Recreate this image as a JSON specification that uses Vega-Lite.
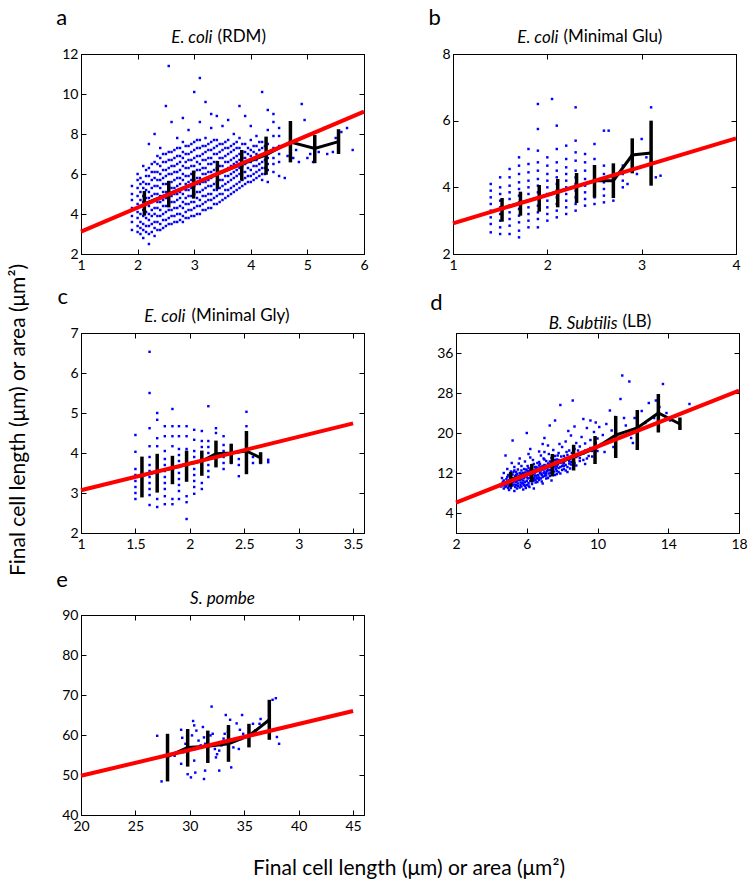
{
"$schema":"https://vega.github.io/schema/vega-lite/v6.json",
"padding":{"left":8,"top":6,"right":5,"bottom":4},
"background":"white",
"title":{"text":"Final cell length (μm) or area  (μm²)","orient":"bottom","anchor":"middle","frame":"group","dx":328,"fontSize":21,"offset":24},
"vconcat":[{
"title":{"text":"Final cell length (μm) or area  (μm²)","orient":"left","anchor":"middle","fontSize":21,"offset":27},
"spacing":16,
"vconcat":[
{"spacing":12,"vconcat":[
{"spacing":55,"hconcat":[
{"title":{"text":"a","anchor":"start","fontSize":22,"offset":-2,"dx":-5},"vconcat":[
{"title":{"text":"(RDM)","anchor":"middle","frame":"group","align":"left","dx":136.5,"offset":-17},"vconcat":[
{"width":283,"height":200,"title":{"text":"E. coli","fontStyle":"italic","anchor":"middle","frame":"group","align":"right","dx":-10,"offset":0},
"layer":[
{"data":{"name":"a_pts"},"mark":"point","encoding":{"x":{"field":"x","type":"quantitative","scale":{"domain":[1,6]},"axis":{"values":[1,2,3,4,5,6],"title":null}},"y":{"field":"y","type":"quantitative","scale":{"domain":[2,12]},"axis":{"values":[2,4,6,8,10,12],"title":null}}}},
{"data":{"name":"a_err"},"mark":"rule","encoding":{"x":{"field":"x","type":"quantitative","axis":null},"y":{"field":"lo","type":"quantitative","axis":null},"y2":{"field":"hi"}}},
{"data":{"name":"a_err"},"mark":{"type":"line","color":"black","strokeWidth":3},"encoding":{"x":{"field":"x","type":"quantitative","axis":null},"y":{"field":"m","type":"quantitative","axis":null}}},
{"data":{"name":"a_fit"},"mark":{"type":"line","color":"#ff0000","strokeWidth":4},"encoding":{"x":{"field":"x","type":"quantitative","axis":{"orient":"top","values":[1,2,3,4,5,6],"labels":false,"title":null}},"y":{"field":"y","type":"quantitative","axis":{"orient":"right","values":[2,4,6,8,10,12],"labels":false,"title":null}}}}
],"resolve":{"axis":{"x":"independent","y":"independent"}}}]}]},
{"title":{"text":"b","anchor":"start","fontSize":22,"offset":-2,"dx":-13},"vconcat":[
{"title":{"text":"(Minimal Glu)","anchor":"middle","frame":"group","align":"left","dx":110.5,"offset":-17},"vconcat":[
{"width":283,"height":200,"title":{"text":"E. coli","fontStyle":"italic","anchor":"middle","frame":"group","align":"right","dx":-36,"offset":0},
"layer":[
{"data":{"name":"b_pts"},"mark":"point","encoding":{"x":{"field":"x","type":"quantitative","scale":{"domain":[1,4]},"axis":{"values":[1,2,3,4],"title":null}},"y":{"field":"y","type":"quantitative","scale":{"domain":[2,8]},"axis":{"values":[2,4,6,8],"title":null}}}},
{"data":{"name":"b_err"},"mark":"rule","encoding":{"x":{"field":"x","type":"quantitative","axis":null},"y":{"field":"lo","type":"quantitative","axis":null},"y2":{"field":"hi"}}},
{"data":{"name":"b_err"},"mark":{"type":"line","color":"black","strokeWidth":3},"encoding":{"x":{"field":"x","type":"quantitative","axis":null},"y":{"field":"m","type":"quantitative","axis":null}}},
{"data":{"name":"b_fit"},"mark":{"type":"line","color":"#ff0000","strokeWidth":4},"encoding":{"x":{"field":"x","type":"quantitative","axis":{"orient":"top","values":[1,2,3,4],"labels":false,"title":null}},"y":{"field":"y","type":"quantitative","axis":{"orient":"right","values":[2,4,6,8],"labels":false,"title":null}}}}
],"resolve":{"axis":{"x":"independent","y":"independent"}}}]}]}
]},
{"spacing":65,"hconcat":[
{"title":{"text":"c","anchor":"start","fontSize":22,"offset":-2,"dx":-12},"vconcat":[
{"title":{"text":"(Minimal Gly)","anchor":"middle","frame":"group","align":"left","dx":110.5,"offset":-17},"vconcat":[
{"width":283,"height":200,"title":{"text":"E. coli","fontStyle":"italic","anchor":"middle","frame":"group","align":"right","dx":-37,"offset":0},
"layer":[
{"data":{"name":"c_pts"},"mark":"point","encoding":{"x":{"field":"x","type":"quantitative","scale":{"domain":[1,3.5]},"axis":{"values":[1,1.5,2,2.5,3,3.5],"title":null}},"y":{"field":"y","type":"quantitative","scale":{"domain":[2,7]},"axis":{"values":[2,3,4,5,6,7],"title":null}}}},
{"data":{"name":"c_err"},"mark":"rule","encoding":{"x":{"field":"x","type":"quantitative","axis":null},"y":{"field":"lo","type":"quantitative","axis":null},"y2":{"field":"hi"}}},
{"data":{"name":"c_err"},"mark":{"type":"line","color":"black","strokeWidth":3},"encoding":{"x":{"field":"x","type":"quantitative","axis":null},"y":{"field":"m","type":"quantitative","axis":null}}},
{"data":{"name":"c_fit"},"mark":{"type":"line","color":"#ff0000","strokeWidth":4},"encoding":{"x":{"field":"x","type":"quantitative","axis":{"orient":"top","values":[1,1.5,2,2.5,3,3.5],"labels":false,"title":null}},"y":{"field":"y","type":"quantitative","axis":{"orient":"right","values":[2,3,4,5,6,7],"labels":false,"title":null}}}}
],"resolve":{"axis":{"x":"independent","y":"independent"}}}]}]},
{"title":{"text":"d","anchor":"start","fontSize":22,"offset":-2,"dx":-6},"vconcat":[
{"title":{"text":"(LB)","anchor":"middle","frame":"group","align":"left","dx":166.5,"offset":-17},"vconcat":[
{"width":283,"height":200,"title":{"text":"B. Subtilis","fontStyle":"italic","anchor":"middle","frame":"group","align":"right","dx":20,"offset":0},
"layer":[
{"data":{"name":"d_pts"},"mark":"point","encoding":{"x":{"field":"x","type":"quantitative","scale":{"domain":[2,18]},"axis":{"values":[2,6,10,14,18],"title":null}},"y":{"field":"y","type":"quantitative","scale":{"domain":[4,36]},"axis":{"values":[4,12,20,28,36],"title":null}}}},
{"data":{"name":"d_err"},"mark":"rule","encoding":{"x":{"field":"x","type":"quantitative","axis":null},"y":{"field":"lo","type":"quantitative","axis":null},"y2":{"field":"hi"}}},
{"data":{"name":"d_err"},"mark":{"type":"line","color":"black","strokeWidth":3},"encoding":{"x":{"field":"x","type":"quantitative","axis":null},"y":{"field":"m","type":"quantitative","axis":null}}},
{"data":{"name":"d_fit"},"mark":{"type":"line","color":"#ff0000","strokeWidth":4},"encoding":{"x":{"field":"x","type":"quantitative","axis":{"orient":"top","values":[2,6,10,14,18],"labels":false,"title":null}},"y":{"field":"y","type":"quantitative","axis":{"orient":"right","values":[4,12,20,28,36],"labels":false,"title":null}}}}
],"resolve":{"axis":{"x":"independent","y":"independent"}}}]}]}
]}
]},
{"hconcat":[
{"title":{"text":"e","anchor":"start","fontSize":22,"offset":-2,"dx":-5},"vconcat":[
{"width":283,"height":200,"title":{"text":"S. pombe","fontStyle":"italic","anchor":"middle","frame":"group","offset":0},
"layer":[
{"data":{"name":"e_pts"},"mark":"point","encoding":{"x":{"field":"x","type":"quantitative","scale":{"domain":[20,45]},"axis":{"values":[20,25,30,35,40,45],"title":null}},"y":{"field":"y","type":"quantitative","scale":{"domain":[40,90]},"axis":{"values":[40,50,60,70,80,90],"title":null}}}},
{"data":{"name":"e_err"},"mark":"rule","encoding":{"x":{"field":"x","type":"quantitative","axis":null},"y":{"field":"lo","type":"quantitative","axis":null},"y2":{"field":"hi"}}},
{"data":{"name":"e_err"},"mark":{"type":"line","color":"black","strokeWidth":3},"encoding":{"x":{"field":"x","type":"quantitative","axis":null},"y":{"field":"m","type":"quantitative","axis":null}}},
{"data":{"name":"e_fit"},"mark":{"type":"line","color":"#ff0000","strokeWidth":4},"encoding":{"x":{"field":"x","type":"quantitative","axis":{"orient":"top","values":[20,25,30,35,40,45],"labels":false,"title":null}},"y":{"field":"y","type":"quantitative","axis":{"orient":"right","values":[40,50,60,70,80,90],"labels":false,"title":null}}}}
],"resolve":{"axis":{"x":"independent","y":"independent"}}}]}
]}
]}],
"datasets":{
"a_err":[{"x":2.12,"lo":3.92,"hi":5.15,"m":4.5},{"x":2.55,"lo":4.33,"hi":5.65,"m":5.0},{"x":2.99,"lo":4.77,"hi":6.17,"m":5.5},{"x":3.41,"lo":5.24,"hi":6.65,"m":6.0},{"x":3.84,"lo":5.67,"hi":7.2,"m":6.5},{"x":4.27,"lo":5.96,"hi":7.87,"m":6.95},{"x":4.7,"lo":6.58,"hi":8.65,"m":7.6},{"x":5.13,"lo":6.54,"hi":7.95,"m":7.28},{"x":5.55,"lo":7.0,"hi":8.24,"m":7.62}],
"a_fit":[{"x":1,"y":3.12},{"x":6,"y":9.12}],
"b_err":[{"x":1.52,"lo":2.97,"hi":3.68,"m":3.36},{"x":1.715,"lo":3.15,"hi":3.87,"m":3.53},{"x":1.914,"lo":3.27,"hi":4.07,"m":3.7},{"x":2.11,"lo":3.4,"hi":4.25,"m":3.87},{"x":2.31,"lo":3.53,"hi":4.43,"m":4.03},{"x":2.5,"lo":3.69,"hi":4.67,"m":4.2},{"x":2.7,"lo":3.68,"hi":4.72,"m":4.2},{"x":2.9,"lo":4.42,"hi":5.47,"m":4.97},{"x":3.1,"lo":4.05,"hi":6.0,"m":5.03}],
"b_fit":[{"x":1,"y":2.92},{"x":4,"y":5.47}],
"c_err":[{"x":1.56,"lo":2.89,"hi":3.91,"m":3.43},{"x":1.7,"lo":3.01,"hi":3.98,"m":3.54},{"x":1.84,"lo":3.22,"hi":3.93,"m":3.62},{"x":1.97,"lo":3.28,"hi":4.06,"m":3.72},{"x":2.11,"lo":3.43,"hi":4.06,"m":3.8},{"x":2.24,"lo":3.64,"hi":4.31,"m":3.98},{"x":2.38,"lo":3.73,"hi":4.23,"m":4.0},{"x":2.52,"lo":3.47,"hi":4.55,"m":4.05},{"x":2.65,"lo":3.73,"hi":4.02,"m":3.88}],
"c_fit":[{"x":1,"y":3.07},{"x":3.5,"y":4.74}],
"d_err":[{"x":5.09,"lo":9.17,"hi":12.2,"m":10.7},{"x":6.28,"lo":10.2,"hi":13.8,"m":12.1},{"x":7.45,"lo":11.3,"hi":15.8,"m":13.6},{"x":8.65,"lo":12.5,"hi":17.65,"m":15.2},{"x":9.86,"lo":13.8,"hi":19.4,"m":16.9},{"x":11.03,"lo":15.0,"hi":23.4,"m":19.6},{"x":12.25,"lo":16.6,"hi":24.6,"m":21.0},{"x":13.44,"lo":20.1,"hi":27.8,"m":24.0},{"x":14.66,"lo":20.6,"hi":23.1,"m":21.8}],
"d_fit":[{"x":2,"y":6.08},{"x":18,"y":28.48}],
"e_err":[{"x":27.95,"lo":48.4,"hi":60.3,"m":54.6},{"x":29.8,"lo":52.1,"hi":61.5,"m":56.9},{"x":31.65,"lo":53.0,"hi":61.1,"m":57.2},{"x":33.55,"lo":53.3,"hi":62.5,"m":57.8},{"x":35.43,"lo":56.9,"hi":62.8,"m":59.8},{"x":37.3,"lo":58.8,"hi":68.8,"m":63.8}],
"e_fit":[{"x":20,"y":49.8},{"x":45,"y":66.0}],
"a_pts":[
{"x":1.9,"y":3.2},{"x":1.9,"y":3.6},{"x":1.9,"y":3.9},{"x":1.9,"y":4.3},{"x":1.9,"y":4.7},{"x":1.9,"y":5.0},{"x":1.9,"y":5.4},
{"x":2.0,"y":3.1},{"x":2.0,"y":3.4},{"x":2.0,"y":3.8},{"x":2.0,"y":4.1},{"x":2.0,"y":4.5},{"x":2.0,"y":4.9},{"x":2.0,"y":5.3},{"x":2.0,"y":5.7},{"x":2.0,"y":6.0},
{"x":2.1,"y":2.8},{"x":2.1,"y":3.2},{"x":2.1,"y":3.5},{"x":2.1,"y":3.9},{"x":2.1,"y":4.2},{"x":2.1,"y":4.6},{"x":2.1,"y":4.9},{"x":2.1,"y":5.3},{"x":2.1,"y":5.6},{"x":2.1,"y":6.4},
{"x":2.2,"y":2.5},{"x":2.2,"y":3.0},{"x":2.2,"y":3.4},{"x":2.2,"y":3.7},{"x":2.2,"y":4.0},{"x":2.2,"y":4.4},{"x":2.2,"y":4.8},{"x":2.2,"y":5.1},{"x":2.2,"y":5.5},{"x":2.2,"y":5.9},{"x":2.2,"y":6.3},{"x":2.2,"y":7.5},
{"x":2.3,"y":2.9},{"x":2.3,"y":3.3},{"x":2.3,"y":3.6},{"x":2.3,"y":4.0},{"x":2.3,"y":4.3},{"x":2.3,"y":4.7},{"x":2.3,"y":5.0},{"x":2.3,"y":5.4},{"x":2.3,"y":5.8},{"x":2.3,"y":6.1},{"x":2.3,"y":6.6},{"x":2.3,"y":8.0},
{"x":2.4,"y":3.2},{"x":2.4,"y":3.5},{"x":2.4,"y":3.9},{"x":2.4,"y":4.2},{"x":2.4,"y":4.6},{"x":2.4,"y":4.9},{"x":2.4,"y":5.3},{"x":2.4,"y":5.7},{"x":2.4,"y":6.0},{"x":2.4,"y":6.4},{"x":2.4,"y":6.8},{"x":2.4,"y":7.3},
{"x":2.5,"y":3.4},{"x":2.5,"y":3.7},{"x":2.5,"y":4.1},{"x":2.5,"y":4.4},{"x":2.5,"y":4.8},{"x":2.5,"y":5.1},{"x":2.5,"y":5.5},{"x":2.5,"y":5.9},{"x":2.5,"y":6.2},{"x":2.5,"y":6.6},{"x":2.5,"y":7.0},{"x":2.5,"y":9.4},
{"x":2.6,"y":3.5},{"x":2.6,"y":3.9},{"x":2.6,"y":4.2},{"x":2.6,"y":4.6},{"x":2.6,"y":4.9},{"x":2.6,"y":5.3},{"x":2.6,"y":5.6},{"x":2.6,"y":6.0},{"x":2.6,"y":6.4},{"x":2.6,"y":6.7},{"x":2.6,"y":7.1},{"x":2.6,"y":8.6},
{"x":2.7,"y":3.6},{"x":2.7,"y":4.0},{"x":2.7,"y":4.3},{"x":2.7,"y":4.7},{"x":2.7,"y":5.0},{"x":2.7,"y":5.4},{"x":2.7,"y":5.8},{"x":2.7,"y":6.1},{"x":2.7,"y":6.5},{"x":2.7,"y":6.9},{"x":2.7,"y":7.3},{"x":2.7,"y":7.8},
{"x":2.8,"y":3.6},{"x":2.8,"y":3.9},{"x":2.8,"y":4.3},{"x":2.8,"y":4.6},{"x":2.8,"y":5.0},{"x":2.8,"y":5.3},{"x":2.8,"y":5.7},{"x":2.8,"y":6.0},{"x":2.8,"y":6.4},{"x":2.8,"y":6.8},{"x":2.8,"y":7.1},{"x":2.8,"y":7.6},{"x":2.8,"y":8.8},
{"x":2.9,"y":3.8},{"x":2.9,"y":4.2},{"x":2.9,"y":4.5},{"x":2.9,"y":4.9},{"x":2.9,"y":5.2},{"x":2.9,"y":5.6},{"x":2.9,"y":5.9},{"x":2.9,"y":6.3},{"x":2.9,"y":6.7},{"x":2.9,"y":7.0},{"x":2.9,"y":7.4},{"x":2.9,"y":8.2},
{"x":3.0,"y":3.9},{"x":3.0,"y":4.3},{"x":3.0,"y":4.6},{"x":3.0,"y":5.0},{"x":3.0,"y":5.4},{"x":3.0,"y":5.7},{"x":3.0,"y":6.1},{"x":3.0,"y":6.4},{"x":3.0,"y":6.8},{"x":3.0,"y":7.2},{"x":3.0,"y":7.6},{"x":3.0,"y":10.1},
{"x":3.1,"y":4.0},{"x":3.1,"y":4.4},{"x":3.1,"y":4.7},{"x":3.1,"y":5.1},{"x":3.1,"y":5.5},{"x":3.1,"y":5.8},{"x":3.1,"y":6.2},{"x":3.1,"y":6.5},{"x":3.1,"y":6.9},{"x":3.1,"y":7.3},{"x":3.1,"y":7.7},{"x":3.1,"y":8.6},{"x":3.1,"y":10.8},
{"x":3.2,"y":4.2},{"x":3.2,"y":4.6},{"x":3.2,"y":4.9},{"x":3.2,"y":5.3},{"x":3.2,"y":5.6},{"x":3.2,"y":6.0},{"x":3.2,"y":6.3},{"x":3.2,"y":6.7},{"x":3.2,"y":7.1},{"x":3.2,"y":7.4},{"x":3.2,"y":7.8},{"x":3.2,"y":9.6},
{"x":3.3,"y":4.3},{"x":3.3,"y":4.7},{"x":3.3,"y":5.0},{"x":3.3,"y":5.4},{"x":3.3,"y":5.8},{"x":3.3,"y":6.1},{"x":3.3,"y":6.5},{"x":3.3,"y":6.8},{"x":3.3,"y":7.2},{"x":3.3,"y":7.6},{"x":3.3,"y":8.3},{"x":3.3,"y":9.0},
{"x":3.4,"y":4.5},{"x":3.4,"y":4.9},{"x":3.4,"y":5.2},{"x":3.4,"y":5.6},{"x":3.4,"y":5.9},{"x":3.4,"y":6.3},{"x":3.4,"y":6.6},{"x":3.4,"y":7.0},{"x":3.4,"y":7.4},{"x":3.4,"y":7.7},{"x":3.4,"y":8.9},
{"x":3.5,"y":4.7},{"x":3.5,"y":5.0},{"x":3.5,"y":5.4},{"x":3.5,"y":5.7},{"x":3.5,"y":6.1},{"x":3.5,"y":6.4},{"x":3.5,"y":6.8},{"x":3.5,"y":7.2},{"x":3.5,"y":7.5},{"x":3.5,"y":8.4},
{"x":3.6,"y":4.9},{"x":3.6,"y":5.2},{"x":3.6,"y":5.6},{"x":3.6,"y":5.9},{"x":3.6,"y":6.3},{"x":3.6,"y":6.6},{"x":3.6,"y":7.0},{"x":3.6,"y":7.3},{"x":3.6,"y":7.7},{"x":3.6,"y":8.7},
{"x":3.7,"y":5.1},{"x":3.7,"y":5.4},{"x":3.7,"y":5.8},{"x":3.7,"y":6.1},{"x":3.7,"y":6.5},{"x":3.7,"y":6.8},{"x":3.7,"y":7.2},{"x":3.7,"y":7.5},{"x":3.7,"y":8.0},
{"x":3.8,"y":5.3},{"x":3.8,"y":5.6},{"x":3.8,"y":6.0},{"x":3.8,"y":6.3},{"x":3.8,"y":6.7},{"x":3.8,"y":7.0},{"x":3.8,"y":7.3},{"x":3.8,"y":7.8},{"x":3.8,"y":9.4},
{"x":3.9,"y":5.5},{"x":3.9,"y":5.8},{"x":3.9,"y":6.1},{"x":3.9,"y":6.5},{"x":3.9,"y":6.8},{"x":3.9,"y":7.1},{"x":3.9,"y":7.5},{"x":3.9,"y":8.9},
{"x":4.0,"y":5.6},{"x":4.0,"y":5.9},{"x":4.0,"y":6.2},{"x":4.0,"y":6.6},{"x":4.0,"y":6.9},{"x":4.0,"y":7.2},{"x":4.0,"y":7.7},{"x":4.0,"y":8.4},
{"x":4.1,"y":5.8},{"x":4.1,"y":6.1},{"x":4.1,"y":6.4},{"x":4.1,"y":6.7},{"x":4.1,"y":7.0},{"x":4.1,"y":7.4},{"x":4.1,"y":7.9},
{"x":4.2,"y":5.7},{"x":4.2,"y":6.0},{"x":4.2,"y":6.3},{"x":4.2,"y":6.6},{"x":4.2,"y":6.9},{"x":4.2,"y":7.3},{"x":4.2,"y":7.6},{"x":4.2,"y":10.1},
{"x":4.3,"y":5.6},{"x":4.3,"y":6.2},{"x":4.3,"y":6.5},{"x":4.3,"y":6.8},{"x":4.3,"y":7.1},{"x":4.3,"y":7.5},{"x":4.3,"y":8.2},{"x":4.3,"y":9.2},
{"x":4.4,"y":6.1},{"x":4.4,"y":6.5},{"x":4.4,"y":6.8},{"x":4.4,"y":7.3},{"x":4.4,"y":7.9},{"x":4.4,"y":8.6},{"x":4.4,"y":9.0},
{"x":4.5,"y":5.9},{"x":4.5,"y":6.6},{"x":4.5,"y":7.0},{"x":4.5,"y":7.4},{"x":4.5,"y":7.9},{"x":4.5,"y":8.3},
{"x":2.55,"y":11.4},{"x":4.6,"y":5.8},{"x":4.65,"y":6.9},{"x":4.75,"y":6.8},{"x":4.8,"y":7.2},{"x":4.85,"y":6.6},{"x":4.9,"y":9.5},{"x":4.95,"y":8.7},{"x":5.0,"y":6.8},{"x":5.05,"y":7.0},{"x":5.1,"y":6.6},{"x":5.2,"y":7.1},{"x":5.3,"y":8.3},{"x":5.35,"y":7.0},{"x":5.45,"y":7.1},{"x":5.5,"y":7.8},{"x":5.6,"y":8.1},{"x":5.7,"y":8.3},{"x":5.8,"y":7.2},{"x":4.7,"y":8.5},
{"x":2.05,"y":3.0},{"x":2.05,"y":3.3},{"x":2.05,"y":3.6},{"x":2.05,"y":4.0},{"x":2.05,"y":4.4},{"x":2.05,"y":4.7},{"x":2.05,"y":5.1},{"x":2.05,"y":5.5},{"x":2.05,"y":5.8},
{"x":2.15,"y":3.1},{"x":2.15,"y":3.4},{"x":2.15,"y":3.8},{"x":2.15,"y":4.1},{"x":2.15,"y":4.5},{"x":2.15,"y":4.8},{"x":2.15,"y":5.2},{"x":2.15,"y":5.5},{"x":2.15,"y":5.9},{"x":2.15,"y":6.2},
{"x":2.25,"y":3.1},{"x":2.25,"y":3.5},{"x":2.25,"y":3.9},{"x":2.25,"y":4.2},{"x":2.25,"y":4.6},{"x":2.25,"y":4.9},{"x":2.25,"y":5.3},{"x":2.25,"y":5.7},{"x":2.25,"y":6.1},{"x":2.25,"y":6.5},
{"x":2.35,"y":3.2},{"x":2.35,"y":3.6},{"x":2.35,"y":3.9},{"x":2.35,"y":4.3},{"x":2.35,"y":4.6},{"x":2.35,"y":5.0},{"x":2.35,"y":5.4},{"x":2.35,"y":5.7},{"x":2.35,"y":6.1},{"x":2.35,"y":6.5},{"x":2.35,"y":6.9},
{"x":2.45,"y":3.3},{"x":2.45,"y":3.7},{"x":2.45,"y":4.0},{"x":2.45,"y":4.4},{"x":2.45,"y":4.7},{"x":2.45,"y":5.1},{"x":2.45,"y":5.5},{"x":2.45,"y":5.8},{"x":2.45,"y":6.2},{"x":2.45,"y":6.6},{"x":2.45,"y":7.0},
{"x":2.55,"y":3.5},{"x":2.55,"y":3.8},{"x":2.55,"y":4.2},{"x":2.55,"y":4.5},{"x":2.55,"y":4.9},{"x":2.55,"y":5.2},{"x":2.55,"y":5.6},{"x":2.55,"y":6.0},{"x":2.55,"y":6.3},{"x":2.55,"y":6.7},{"x":2.55,"y":7.1},
{"x":2.65,"y":3.6},{"x":2.65,"y":3.9},{"x":2.65,"y":4.3},{"x":2.65,"y":4.6},{"x":2.65,"y":5.0},{"x":2.65,"y":5.3},{"x":2.65,"y":5.7},{"x":2.65,"y":6.1},{"x":2.65,"y":6.4},{"x":2.65,"y":6.8},{"x":2.65,"y":7.2},
{"x":2.75,"y":3.7},{"x":2.75,"y":4.0},{"x":2.75,"y":4.4},{"x":2.75,"y":4.8},{"x":2.75,"y":5.1},{"x":2.75,"y":5.5},{"x":2.75,"y":5.8},{"x":2.75,"y":6.2},{"x":2.75,"y":6.6},{"x":2.75,"y":6.9},{"x":2.75,"y":7.3},
{"x":2.85,"y":3.8},{"x":2.85,"y":4.1},{"x":2.85,"y":4.5},{"x":2.85,"y":4.8},{"x":2.85,"y":5.2},{"x":2.85,"y":5.5},{"x":2.85,"y":5.9},{"x":2.85,"y":6.3},{"x":2.85,"y":6.6},{"x":2.85,"y":7.0},{"x":2.85,"y":7.4},
{"x":2.95,"y":3.9},{"x":2.95,"y":4.2},{"x":2.95,"y":4.6},{"x":2.95,"y":4.9},{"x":2.95,"y":5.3},{"x":2.95,"y":5.7},{"x":2.95,"y":6.0},{"x":2.95,"y":6.4},{"x":2.95,"y":6.7},{"x":2.95,"y":7.1},{"x":2.95,"y":7.5},
{"x":3.05,"y":4.0},{"x":3.05,"y":4.4},{"x":3.05,"y":4.8},{"x":3.05,"y":5.1},{"x":3.05,"y":5.5},{"x":3.05,"y":5.8},{"x":3.05,"y":6.2},{"x":3.05,"y":6.6},{"x":3.05,"y":6.9},{"x":3.05,"y":7.3},{"x":3.05,"y":7.7},
{"x":3.15,"y":4.2},{"x":3.15,"y":4.5},{"x":3.15,"y":4.9},{"x":3.15,"y":5.2},{"x":3.15,"y":5.6},{"x":3.15,"y":6.0},{"x":3.15,"y":6.3},{"x":3.15,"y":6.7},{"x":3.15,"y":7.0},{"x":3.15,"y":7.4},
{"x":3.25,"y":4.3},{"x":3.25,"y":4.7},{"x":3.25,"y":5.0},{"x":3.25,"y":5.4},{"x":3.25,"y":5.7},{"x":3.25,"y":6.1},{"x":3.25,"y":6.5},{"x":3.25,"y":6.8},{"x":3.25,"y":7.2},{"x":3.25,"y":7.5},
{"x":3.35,"y":4.5},{"x":3.35,"y":4.8},{"x":3.35,"y":5.2},{"x":3.35,"y":5.5},{"x":3.35,"y":5.9},{"x":3.35,"y":6.2},{"x":3.35,"y":6.6},{"x":3.35,"y":7.0},{"x":3.35,"y":7.3},{"x":3.35,"y":7.7},
{"x":3.45,"y":4.6},{"x":3.45,"y":5.0},{"x":3.45,"y":5.3},{"x":3.45,"y":5.7},{"x":3.45,"y":6.1},{"x":3.45,"y":6.4},{"x":3.45,"y":6.8},{"x":3.45,"y":7.1},{"x":3.45,"y":7.5},
{"x":3.55,"y":4.8},{"x":3.55,"y":5.2},{"x":3.55,"y":5.5},{"x":3.55,"y":5.9},{"x":3.55,"y":6.2},{"x":3.55,"y":6.6},{"x":3.55,"y":6.9},{"x":3.55,"y":7.3},{"x":3.55,"y":7.6},
{"x":3.65,"y":5.0},{"x":3.65,"y":5.3},{"x":3.65,"y":5.7},{"x":3.65,"y":6.0},{"x":3.65,"y":6.4},{"x":3.65,"y":6.7},{"x":3.65,"y":7.1},{"x":3.65,"y":7.4},
{"x":3.75,"y":5.2},{"x":3.75,"y":5.5},{"x":3.75,"y":5.9},{"x":3.75,"y":6.2},{"x":3.75,"y":6.6},{"x":3.75,"y":6.9},{"x":3.75,"y":7.3},{"x":3.75,"y":7.6},
{"x":3.85,"y":5.4},{"x":3.85,"y":5.7},{"x":3.85,"y":6.1},{"x":3.85,"y":6.4},{"x":3.85,"y":6.8},{"x":3.85,"y":7.1},{"x":3.85,"y":7.5},
{"x":3.95,"y":5.6},{"x":3.95,"y":5.9},{"x":3.95,"y":6.3},{"x":3.95,"y":6.6},{"x":3.95,"y":7.0},{"x":3.95,"y":7.3},
{"x":4.05,"y":5.7},{"x":4.05,"y":6.0},{"x":4.05,"y":6.4},{"x":4.05,"y":6.7},{"x":4.05,"y":7.1},{"x":4.05,"y":7.4},
{"x":4.15,"y":5.9},{"x":4.15,"y":6.2},{"x":4.15,"y":6.5},{"x":4.15,"y":6.9},{"x":4.15,"y":7.2},{"x":4.15,"y":7.6},
{"x":4.25,"y":6.0},{"x":4.25,"y":6.3},{"x":4.25,"y":6.7},{"x":4.25,"y":7.0},{"x":4.25,"y":7.4}
],
"b_pts":[
{"x":1.4,"y":2.65},{"x":1.4,"y":2.9},{"x":1.4,"y":3.1},{"x":1.4,"y":3.3},{"x":1.4,"y":3.5},{"x":1.4,"y":3.7},{"x":1.4,"y":3.9},{"x":1.4,"y":4.1},
{"x":1.5,"y":2.6},{"x":1.5,"y":2.8},{"x":1.5,"y":3.0},{"x":1.5,"y":3.2},{"x":1.5,"y":3.4},{"x":1.5,"y":3.6},{"x":1.5,"y":3.8},{"x":1.5,"y":4.0},{"x":1.5,"y":4.3},
{"x":1.6,"y":2.6},{"x":1.6,"y":2.85},{"x":1.6,"y":3.05},{"x":1.6,"y":3.25},{"x":1.6,"y":3.45},{"x":1.6,"y":3.65},{"x":1.6,"y":3.85},{"x":1.6,"y":4.05},{"x":1.6,"y":4.3},{"x":1.6,"y":4.55},
{"x":1.7,"y":2.5},{"x":1.7,"y":2.7},{"x":1.7,"y":2.95},{"x":1.7,"y":3.15},{"x":1.7,"y":3.35},{"x":1.7,"y":3.55},{"x":1.7,"y":3.75},{"x":1.7,"y":3.95},{"x":1.7,"y":4.15},{"x":1.7,"y":4.4},{"x":1.7,"y":4.65},{"x":1.7,"y":4.9},
{"x":1.8,"y":2.8},{"x":1.8,"y":3.0},{"x":1.8,"y":3.2},{"x":1.8,"y":3.4},{"x":1.8,"y":3.6},{"x":1.8,"y":3.8},{"x":1.8,"y":4.0},{"x":1.8,"y":4.2},{"x":1.8,"y":4.45},{"x":1.8,"y":4.7},{"x":1.8,"y":5.15},
{"x":1.9,"y":2.8},{"x":1.9,"y":3.05},{"x":1.9,"y":3.25},{"x":1.9,"y":3.45},{"x":1.9,"y":3.65},{"x":1.9,"y":3.85},{"x":1.9,"y":4.05},{"x":1.9,"y":4.25},{"x":1.9,"y":4.5},{"x":1.9,"y":4.75},{"x":1.9,"y":5.1},{"x":1.9,"y":5.75},{"x":1.9,"y":6.5},
{"x":2.0,"y":3.0},{"x":2.0,"y":3.2},{"x":2.0,"y":3.4},{"x":2.0,"y":3.6},{"x":2.0,"y":3.8},{"x":2.0,"y":4.0},{"x":2.0,"y":4.2},{"x":2.0,"y":4.4},{"x":2.0,"y":4.65},{"x":2.0,"y":4.9},{"x":2.05,"y":6.65},
{"x":2.1,"y":3.1},{"x":2.1,"y":3.3},{"x":2.1,"y":3.5},{"x":2.1,"y":3.7},{"x":2.1,"y":3.9},{"x":2.1,"y":4.1},{"x":2.1,"y":4.3},{"x":2.1,"y":4.5},{"x":2.1,"y":4.75},{"x":2.1,"y":5.15},{"x":2.1,"y":5.85},
{"x":2.2,"y":3.2},{"x":2.2,"y":3.4},{"x":2.2,"y":3.6},{"x":2.2,"y":3.8},{"x":2.2,"y":4.0},{"x":2.2,"y":4.2},{"x":2.2,"y":4.4},{"x":2.2,"y":4.6},{"x":2.2,"y":4.85},{"x":2.2,"y":5.25},
{"x":2.3,"y":3.3},{"x":2.3,"y":3.5},{"x":2.3,"y":3.7},{"x":2.3,"y":3.9},{"x":2.3,"y":4.1},{"x":2.3,"y":4.3},{"x":2.3,"y":4.5},{"x":2.3,"y":4.8},{"x":2.3,"y":5.05},{"x":2.3,"y":5.4},{"x":2.3,"y":6.4},
{"x":2.4,"y":3.45},{"x":2.4,"y":3.65},{"x":2.4,"y":3.85},{"x":2.4,"y":4.05},{"x":2.4,"y":4.25},{"x":2.4,"y":4.5},{"x":2.4,"y":4.75},{"x":2.4,"y":5.0},
{"x":2.5,"y":3.5},{"x":2.5,"y":3.7},{"x":2.5,"y":3.9},{"x":2.5,"y":4.1},{"x":2.5,"y":4.35},{"x":2.5,"y":4.6},{"x":2.5,"y":4.85},{"x":2.5,"y":5.3},
{"x":2.6,"y":3.55},{"x":2.6,"y":3.75},{"x":2.6,"y":3.95},{"x":2.6,"y":4.15},{"x":2.6,"y":4.4},{"x":2.6,"y":4.65},{"x":2.6,"y":5.7},
{"x":2.7,"y":3.6},{"x":2.7,"y":3.85},{"x":2.7,"y":4.05},{"x":2.7,"y":4.3},{"x":2.7,"y":4.55},{"x":2.65,"y":5.7},
{"x":2.8,"y":4.0},{"x":2.8,"y":4.2},{"x":2.8,"y":4.4},{"x":2.8,"y":4.65},
{"x":2.85,"y":4.1},{"x":2.95,"y":4.4},{"x":3.0,"y":5.45},{"x":3.05,"y":4.9},{"x":3.1,"y":6.4},{"x":3.15,"y":4.3},{"x":3.2,"y":4.35},{"x":3.1,"y":4.8},{"x":2.9,"y":4.6}
],
"c_pts":[
{"x":1.5,"y":2.85},{"x":1.5,"y":3.0},{"x":1.5,"y":3.15},{"x":1.5,"y":3.3},{"x":1.5,"y":3.45},{"x":1.5,"y":3.6},{"x":1.5,"y":4.03},{"x":1.5,"y":4.45},
{"x":1.56,"y":3.5},
{"x":1.63,"y":2.7},{"x":1.63,"y":2.95},{"x":1.63,"y":3.1},{"x":1.63,"y":3.25},{"x":1.63,"y":3.4},{"x":1.63,"y":3.55},{"x":1.63,"y":3.7},{"x":1.63,"y":3.9},{"x":1.63,"y":4.17},{"x":1.63,"y":4.62},{"x":1.63,"y":5.5},{"x":1.63,"y":6.53},
{"x":1.7,"y":2.65},{"x":1.7,"y":2.85},{"x":1.7,"y":4.17},{"x":1.7,"y":4.37},{"x":1.7,"y":4.83},{"x":1.7,"y":5.0},
{"x":1.77,"y":2.72},{"x":1.77,"y":2.92},{"x":1.77,"y":3.1},{"x":1.77,"y":3.25},{"x":1.77,"y":3.4},{"x":1.77,"y":3.55},{"x":1.77,"y":3.7},{"x":1.77,"y":3.85},{"x":1.77,"y":4.05},{"x":1.77,"y":4.42},{"x":1.77,"y":4.67},
{"x":1.84,"y":2.72},{"x":1.84,"y":2.85},{"x":1.84,"y":4.17},{"x":1.84,"y":4.42},{"x":1.84,"y":4.67},{"x":1.84,"y":5.1},
{"x":1.9,"y":2.85},{"x":1.9,"y":3.05},{"x":1.9,"y":3.2},{"x":1.9,"y":3.35},{"x":1.9,"y":3.5},{"x":1.9,"y":3.65},{"x":1.9,"y":3.8},{"x":1.9,"y":3.95},{"x":1.9,"y":4.1},{"x":1.9,"y":4.42},{"x":1.9,"y":4.67},
{"x":1.97,"y":2.35},{"x":1.97,"y":2.77},{"x":1.97,"y":2.92},{"x":1.97,"y":4.1},{"x":1.97,"y":4.42},{"x":1.97,"y":4.67},
{"x":2.04,"y":2.98},{"x":2.04,"y":3.15},{"x":2.04,"y":3.3},{"x":2.04,"y":3.45},{"x":2.04,"y":3.6},{"x":2.04,"y":3.75},{"x":2.04,"y":3.9},{"x":2.04,"y":4.05},{"x":2.04,"y":4.33},{"x":2.04,"y":4.58},
{"x":2.11,"y":3.1},{"x":2.11,"y":3.25},{"x":2.11,"y":4.15},{"x":2.11,"y":4.3},{"x":2.11,"y":4.55},
{"x":2.17,"y":3.4},{"x":2.17,"y":3.55},{"x":2.17,"y":3.7},{"x":2.17,"y":3.85},{"x":2.17,"y":4.0},{"x":2.17,"y":4.15},{"x":2.17,"y":4.3},{"x":2.17,"y":5.17},
{"x":2.24,"y":4.5},{"x":2.24,"y":4.62},
{"x":2.31,"y":3.6},{"x":2.31,"y":3.75},{"x":2.31,"y":3.9},{"x":2.31,"y":4.05},{"x":2.31,"y":4.2},{"x":2.31,"y":4.42},
{"x":2.38,"y":3.75},{"x":2.38,"y":3.9},{"x":2.38,"y":4.05},{"x":2.38,"y":4.2},
{"x":2.45,"y":3.42},{"x":2.45,"y":3.7},{"x":2.45,"y":3.85},
{"x":2.52,"y":4.67},{"x":2.52,"y":5.03},
{"x":2.58,"y":3.75},{"x":2.58,"y":3.9},{"x":2.65,"y":3.75},{"x":2.65,"y":3.85},{"x":2.72,"y":3.77},{"x":2.72,"y":3.83}
],
"d_pts":[
{"x":4.6,"y":9.8},{"x":4.7,"y":10.5},{"x":4.8,"y":9.2},{"x":4.9,"y":11.2},{"x":5.0,"y":8.6},{"x":5.0,"y":10.0},{"x":5.1,"y":12.3},{"x":5.2,"y":9.5},{"x":5.3,"y":10.8},{"x":5.3,"y":8.4},{"x":5.4,"y":11.6},{"x":5.5,"y":9.9},{"x":4.8,"y":15.5},{"x":5.2,"y":18.5},{"x":4.9,"y":12.8},{"x":5.1,"y":9.0},{"x":5.4,"y":10.2},{"x":5.5,"y":12.7},{"x":4.7,"y":8.9},{"x":5.0,"y":11.5},{"x":5.2,"y":10.6},{"x":5.3,"y":13.2},{"x":4.6,"y":11.0},{"x":5.45,"y":8.9},{"x":5.15,"y":14.0},
{"x":5.6,"y":10.6},{"x":5.6,"y":12.0},{"x":5.7,"y":9.3},{"x":5.7,"y":13.4},{"x":5.8,"y":11.1},{"x":5.8,"y":8.7},{"x":5.9,"y":10.2},{"x":5.9,"y":14.3},{"x":6.0,"y":12.5},{"x":6.0,"y":9.6},{"x":6.0,"y":20.0},{"x":6.1,"y":11.7},{"x":6.1,"y":13.0},{"x":6.2,"y":10.4},{"x":6.2,"y":15.1},{"x":6.3,"y":9.8},{"x":6.3,"y":12.2},{"x":6.4,"y":11.0},{"x":6.4,"y":13.8},{"x":6.5,"y":10.1},{"x":6.5,"y":12.8},{"x":5.65,"y":11.4},{"x":5.75,"y":10.0},{"x":5.85,"y":12.8},{"x":5.95,"y":11.6},{"x":6.05,"y":10.9},{"x":6.15,"y":9.2},{"x":6.25,"y":11.3},{"x":6.35,"y":14.6},{"x":6.45,"y":12.0},{"x":5.55,"y":13.9},{"x":6.2,"y":16.8},{"x":6.4,"y":8.9},
{"x":6.6,"y":11.5},{"x":6.6,"y":14.0},{"x":6.7,"y":10.6},{"x":6.7,"y":12.9},{"x":6.8,"y":15.5},{"x":6.8,"y":11.9},{"x":6.9,"y":9.9},{"x":6.9,"y":13.4},{"x":7.0,"y":12.3},{"x":7.0,"y":16.2},{"x":7.1,"y":10.9},{"x":7.1,"y":14.4},{"x":7.2,"y":12.6},{"x":7.2,"y":17.5},{"x":7.3,"y":11.4},{"x":7.3,"y":13.8},{"x":7.4,"y":15.0},{"x":7.4,"y":10.5},{"x":7.5,"y":12.9},{"x":7.5,"y":16.6},{"x":6.65,"y":12.4},{"x":6.75,"y":13.8},{"x":6.85,"y":10.3},{"x":6.95,"y":14.9},{"x":7.05,"y":11.8},{"x":7.15,"y":13.1},{"x":7.25,"y":15.8},{"x":7.35,"y":12.1},{"x":7.45,"y":14.2},{"x":7.0,"y":19.0},{"x":7.3,"y":21.5},{"x":6.9,"y":17.8},{"x":7.6,"y":22.5},
{"x":7.6,"y":13.3},{"x":7.6,"y":11.6},{"x":7.7,"y":14.7},{"x":7.7,"y":12.4},{"x":7.8,"y":16.0},{"x":7.8,"y":13.0},{"x":7.9,"y":11.9},{"x":7.9,"y":25.6},{"x":8.0,"y":14.1},{"x":8.0,"y":17.2},{"x":8.1,"y":12.8},{"x":8.1,"y":15.4},{"x":8.2,"y":13.6},{"x":8.2,"y":18.3},{"x":8.3,"y":14.8},{"x":8.3,"y":12.2},{"x":8.4,"y":16.5},{"x":8.4,"y":13.9},{"x":8.5,"y":15.2},{"x":8.5,"y":19.5},{"x":7.75,"y":15.5},{"x":7.85,"y":17.8},{"x":8.05,"y":13.5},{"x":8.25,"y":16.2},{"x":8.45,"y":12.9},{"x":8.35,"y":20.4},{"x":8.6,"y":26.5},
{"x":8.6,"y":14.3},{"x":8.7,"y":16.8},{"x":8.8,"y":13.5},{"x":8.8,"y":18.0},{"x":8.9,"y":15.6},{"x":9.0,"y":17.3},{"x":9.0,"y":14.4},{"x":9.1,"y":19.2},{"x":9.2,"y":15.9},{"x":9.3,"y":17.9},{"x":9.4,"y":14.9},{"x":9.4,"y":21.0},{"x":9.5,"y":16.7},{"x":9.6,"y":18.6},{"x":9.7,"y":15.3},{"x":9.8,"y":20.2},{"x":9.8,"y":17.1},{"x":9.9,"y":22.1},{"x":10.0,"y":16.4},{"x":10.0,"y":18.9},{"x":9.2,"y":22.8},{"x":9.6,"y":22.5},{"x":9.3,"y":13.8},{"x":8.7,"y":21.3},{"x":10.1,"y":21.2},{"x":10.2,"y":17.8},
{"x":10.3,"y":19.6},{"x":10.4,"y":16.2},{"x":10.5,"y":21.8},{"x":10.6,"y":18.4},{"x":10.8,"y":20.5},{"x":10.9,"y":17.2},{"x":11.0,"y":23.2},{"x":11.2,"y":19.8},{"x":11.3,"y":26.8},{"x":11.4,"y":31.5},{"x":11.6,"y":21.5},{"x":11.8,"y":30.3},{"x":11.9,"y":19.0},{"x":12.1,"y":23.0},{"x":12.3,"y":20.5},{"x":12.5,"y":24.4},{"x":12.7,"y":22.0},{"x":12.9,"y":26.0},{"x":13.2,"y":23.0},{"x":13.5,"y":25.2},{"x":13.7,"y":29.8},{"x":13.9,"y":24.0},{"x":14.1,"y":22.5},{"x":14.4,"y":23.3},{"x":15.2,"y":25.8},{"x":13.3,"y":26.5},{"x":11.5,"y":23.0},{"x":10.7,"y":24.5},{"x":12.0,"y":18.0},
{"x":4.9,"y":10.4},{"x":5.0,"y":9.4},{"x":5.1,"y":10.9},{"x":5.2,"y":11.7},{"x":5.3,"y":9.7},{"x":5.4,"y":12.2},{"x":5.5,"y":10.6},{"x":5.6,"y":9.1},{"x":5.7,"y":11.9},{"x":5.8,"y":10.5},{"x":5.9,"y":12.1},{"x":6.0,"y":11.2},{"x":6.1,"y":10.0},{"x":6.2,"y":12.7},{"x":6.3,"y":11.0},{"x":6.4,"y":12.5},{"x":6.5,"y":11.4},{"x":6.6,"y":10.2},{"x":6.7,"y":13.5},{"x":6.8,"y":12.5},{"x":6.9,"y":11.2},{"x":7.0,"y":13.6},{"x":7.1,"y":12.0},{"x":7.2,"y":11.0},{"x":7.3,"y":14.3},{"x":7.4,"y":12.7},{"x":7.5,"y":11.7},{"x":7.6,"y":14.6},{"x":7.7,"y":13.3},{"x":7.8,"y":12.2},{"x":7.9,"y":14.5},{"x":8.0,"y":12.6},{"x":8.1,"y":14.0},{"x":8.2,"y":15.0},{"x":8.3,"y":13.2},{"x":8.4,"y":15.1},{"x":8.5,"y":13.7},{"x":5.05,"y":10.7},{"x":5.25,"y":11.0},{"x":5.45,"y":10.4},{"x":5.65,"y":10.1},{"x":5.85,"y":9.6},{"x":6.05,"y":13.4},{"x":6.25,"y":10.7},{"x":6.45,"y":11.5},{"x":6.65,"y":10.9},{"x":6.85,"y":13.0},{"x":7.05,"y":12.9},{"x":7.25,"y":11.9},{"x":7.45,"y":13.4},{"x":7.65,"y":12.8},{"x":7.85,"y":14.0},{"x":6.55,"y":13.2},{"x":5.95,"y":9.0},{"x":5.35,"y":9.2},{"x":4.75,"y":9.7},{"x":4.85,"y":10.8},{"x":4.95,"y":9.0},{"x":6.15,"y":12.3},{"x":6.35,"y":10.4},
{"x":4.55,"y":9.3},{"x":4.65,"y":10.2},{"x":4.7,"y":9.5},{"x":4.8,"y":10.1},{"x":4.85,"y":9.4},{"x":4.9,"y":9.8},{"x":4.95,"y":11.6},{"x":5.0,"y":10.5},{"x":5.05,"y":9.7},{"x":5.1,"y":10.3},{"x":5.1,"y":11.4},{"x":5.15,"y":9.9},{"x":5.2,"y":10.2},{"x":5.25,"y":12.2},{"x":5.3,"y":10.3},{"x":5.35,"y":11.4},{"x":5.4,"y":9.6},{"x":5.45,"y":11.8},{"x":5.5,"y":11.1},{"x":5.5,"y":9.4},{"x":5.55,"y":10.9},{"x":5.6,"y":11.5},{"x":5.65,"y":9.6},{"x":5.7,"y":10.7},{"x":5.7,"y":12.5},{"x":5.75,"y":11.2},{"x":5.8,"y":9.9},{"x":5.8,"y":12.0},{"x":5.85,"y":11.0},{"x":5.9,"y":9.4},{"x":5.9,"y":11.4},{"x":5.95,"y":12.7},{"x":6.0,"y":10.4},{"x":6.0,"y":11.8},{"x":6.05,"y":12.1},{"x":6.1,"y":9.5},{"x":6.1,"y":12.4},{"x":6.15,"y":11.0},{"x":6.2,"y":11.5},{"x":6.25,"y":12.9},{"x":6.3,"y":10.3},{"x":6.3,"y":13.6},{"x":6.35,"y":11.8},{"x":6.4,"y":10.6},{"x":6.45,"y":13.2},{"x":6.5,"y":12.2},{"x":6.5,"y":10.6},{"x":6.55,"y":11.0},{"x":6.6,"y":12.9},{"x":6.65,"y":11.6},{"x":6.7,"y":11.1},{"x":6.7,"y":14.2},{"x":6.75,"y":12.0},{"x":6.8,"y":10.9},{"x":6.8,"y":13.2},{"x":6.85,"y":11.6},{"x":6.9,"y":12.7},{"x":6.95,"y":12.0},{"x":7.0,"y":11.4},{"x":7.0,"y":14.7},{"x":7.05,"y":13.5},{"x":7.1,"y":11.5},{"x":7.1,"y":13.2},{"x":7.15,"y":12.4},{"x":7.2,"y":13.9},{"x":7.25,"y":12.6},{"x":7.3,"y":12.6},{"x":7.35,"y":13.3},{"x":7.4,"y":11.9},{"x":7.4,"y":14.0},{"x":7.5,"y":13.6},{"x":7.55,"y":12.3},{"x":7.6,"y":15.4},{"x":7.65,"y":14.1},{"x":7.7,"y":11.8},{"x":7.75,"y":13.7},{"x":7.8,"y":14.6},{"x":7.9,"y":13.2},{"x":7.95,"y":15.3},{"x":8.0,"y":13.4},{"x":8.1,"y":13.4},{"x":8.15,"y":14.8},{"x":8.2,"y":12.5},{"x":8.3,"y":15.6},{"x":8.4,"y":14.4},{"x":8.5,"y":14.2},{"x":8.55,"y":16.0},{"x":8.6,"y":15.1},{"x":8.7,"y":14.0},{"x":8.8,"y":15.2},{"x":8.9,"y":16.5},{"x":9.0,"y":15.0},{"x":9.1,"y":16.0},{"x":9.2,"y":14.6},{"x":9.3,"y":16.5},{"x":9.5,"y":15.4},{"x":9.6,"y":17.0},{"x":9.7,"y":16.4},{"x":9.9,"y":18.0},{"x":5.6,"y":14.9},{"x":6.1,"y":15.8},{"x":6.7,"y":16.3},{"x":5.3,"y":12.5},{"x":4.7,"y":12.0}
],
"e_pts":[
{"x":27.0,"y":59.8},{"x":27.4,"y":48.4},{"x":28.6,"y":54.8},{"x":29.2,"y":61.3},{"x":29.3,"y":59.3},{"x":29.4,"y":55.7},{"x":29.2,"y":52.8},{"x":30.3,"y":63.5},{"x":30.4,"y":62.4},{"x":30.2,"y":59.9},{"x":30.6,"y":61.1},{"x":30.8,"y":58.6},{"x":30.5,"y":56.5},{"x":30.4,"y":53.6},{"x":30.5,"y":50.6},{"x":30.1,"y":49.4},{"x":31.2,"y":62.0},{"x":31.3,"y":59.4},{"x":31.4,"y":57.8},{"x":31.4,"y":51.1},{"x":31.3,"y":49.0},{"x":32.0,"y":67.1},{"x":32.1,"y":60.3},{"x":32.3,"y":56.5},{"x":32.4,"y":54.4},{"x":32.5,"y":55.2},{"x":32.7,"y":56.1},{"x":32.9,"y":57.4},{"x":32.7,"y":51.1},{"x":33.3,"y":65.0},{"x":33.2,"y":60.3},{"x":33.7,"y":63.8},{"x":33.9,"y":58.6},{"x":34.0,"y":56.9},{"x":33.8,"y":51.9},{"x":34.3,"y":62.9},{"x":34.6,"y":61.3},{"x":34.8,"y":65.0},{"x":34.9,"y":60.3},{"x":34.7,"y":59.0},{"x":34.5,"y":56.5},{"x":36.0,"y":61.1},{"x":35.8,"y":62.8},{"x":36.4,"y":62.8},{"x":36.5,"y":64.0},{"x":37.6,"y":68.8},{"x":37.9,"y":69.2},{"x":38.0,"y":59.5},{"x":38.2,"y":57.8},{"x":31.9,"y":59.9},{"x":31.6,"y":58.6},{"x":33.1,"y":59.1},{"x":33.5,"y":60.8},{"x":31.0,"y":57.4},{"x":29.6,"y":57.8},{"x":29.8,"y":50.2}
]
},
"config":{
"font":"Lato",
"view":{"stroke":"black","strokeWidth":1},
"axis":{"grid":false,"domainColor":"black","tickColor":"black","labelColor":"black","labelFont":"Lato","labelFontSize":14,"tickSize":-5,"labelFlush":false,"labelOverlap":false,"format":".1~f"},
"axisX":{"labelPadding":9},
"axisY":{"labelPadding":8},
"title":{"font":"Lato","fontSize":17,"fontWeight":"normal","color":"black"},
"point":{"shape":"square","filled":true,"size":6,"color":"#0000ff","opacity":1},
"rule":{"color":"black","strokeWidth":3.5,"strokeCap":"butt"}
}
}
